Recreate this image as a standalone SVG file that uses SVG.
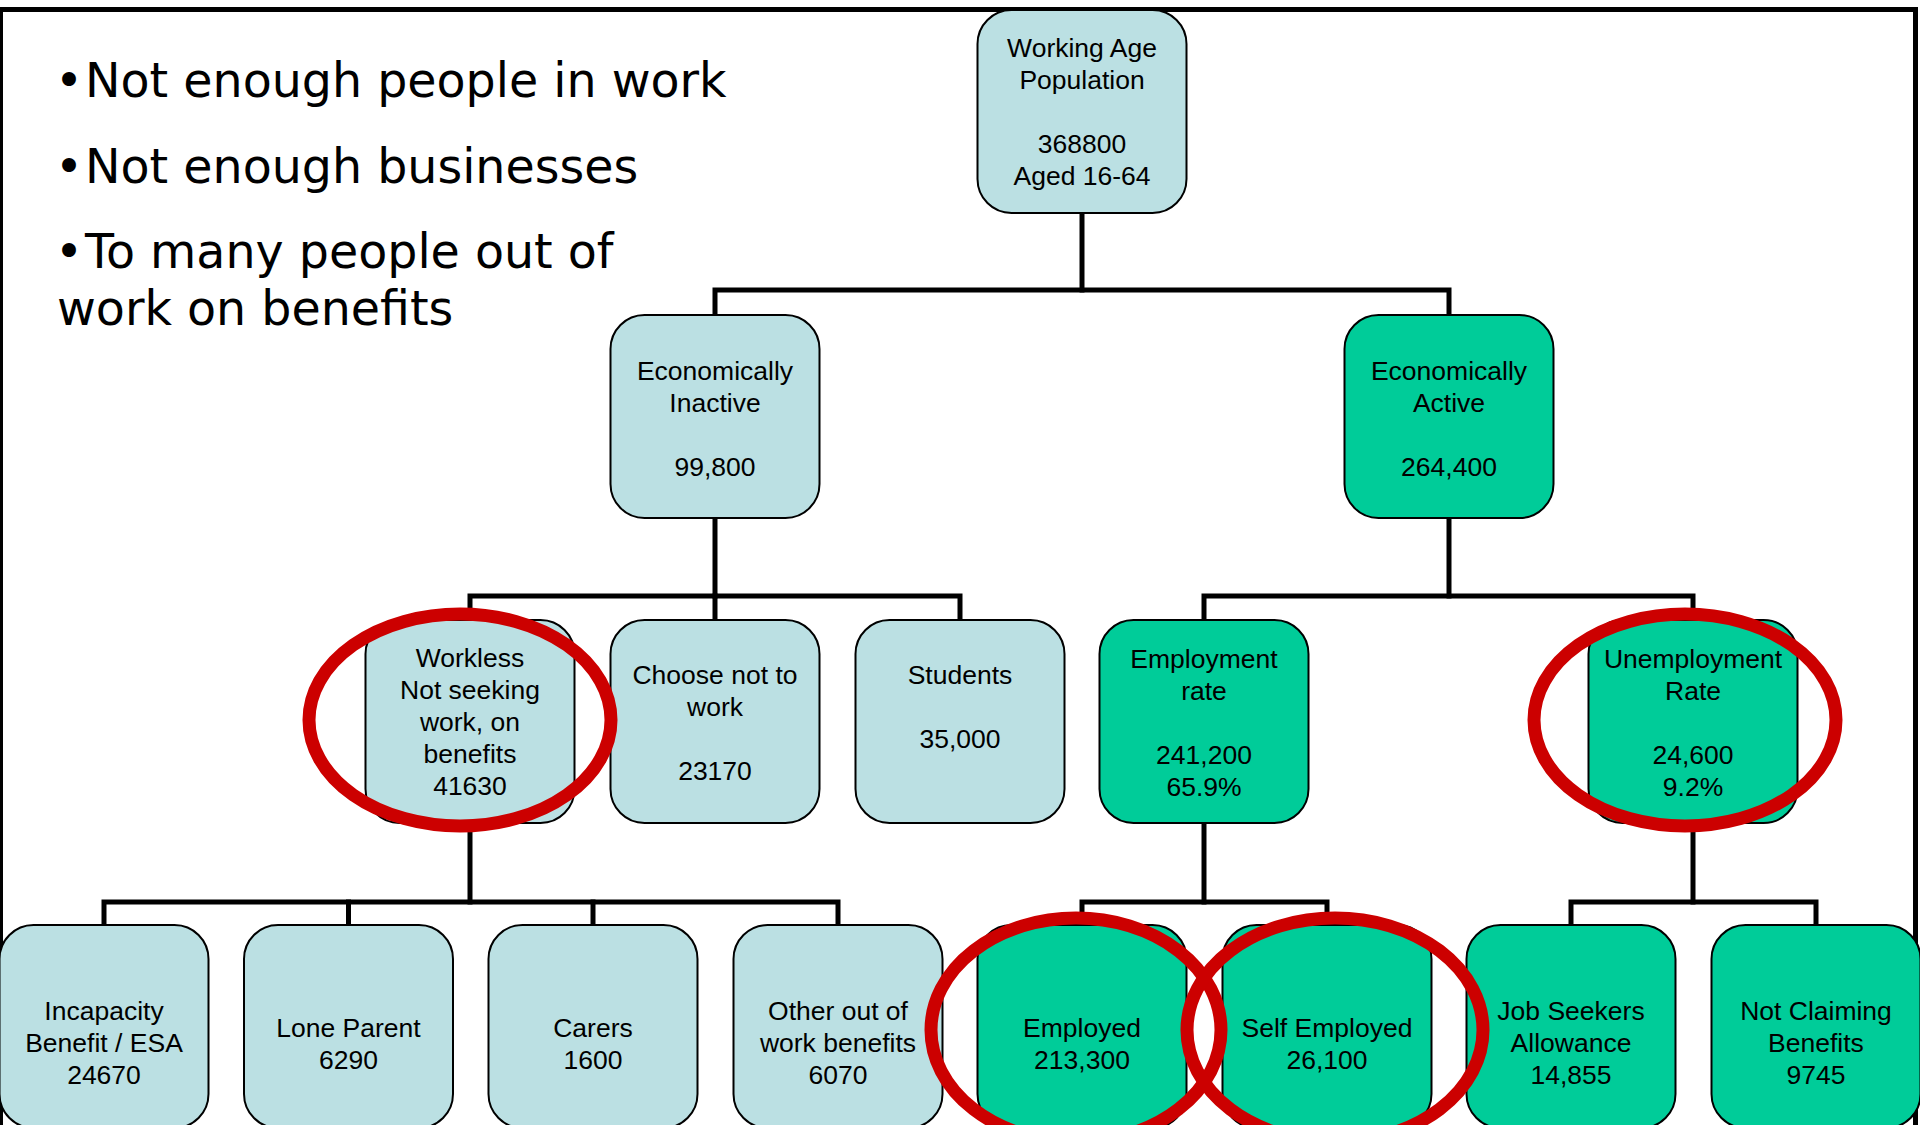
<svg xmlns="http://www.w3.org/2000/svg" width="1920" height="1125" viewBox="0 0 1920 1125">
<style>
.blue{fill:#BBE0E3;stroke:#000;stroke-width:2}
.green{fill:#00CC99;stroke:#000;stroke-width:2}
.t{font-family:"Liberation Sans",Arial,sans-serif;font-size:26.5px;fill:#000;text-anchor:middle}
.c{fill:none;stroke:#000;stroke-width:5;stroke-linecap:square}
.ring{fill:none;stroke:#CC0000;stroke-width:13}
.big{font-family:"DejaVu Sans",Verdana,sans-serif;font-size:47.5px;fill:#000}
.frame{stroke:#000;fill:none}
</style>
<rect x="0" y="0" width="1920" height="1125" fill="#fff"/>
<g id="frame">
<line class="frame" x1="0" y1="9.5" x2="1918" y2="9.5" stroke-width="5"/>
<line class="frame" x1="1.5" y1="7" x2="1.5" y2="1125" stroke-width="3"/>
<line class="frame" x1="1915.5" y1="7" x2="1915.5" y2="1125" stroke-width="5"/>
</g>
<g id="bullets">
<text class="big" x="55" y="97">•<tspan x="85">Not enough people in work</tspan></text>
<text class="big" x="55" y="183">•<tspan x="85">Not enough businesses</tspan></text>
<text class="big" x="55" y="268">•<tspan x="85">To many people out of</tspan></text>
<text class="big" x="57" y="325">work on benefits</text>
</g>
<g id="connectors">
<polyline class="c" points="1082,213 1082,290"/>
<polyline class="c" points="715,315 715,290 1449,290 1449,315"/>
<polyline class="c" points="715,517 715,596"/>
<polyline class="c" points="470,620 470,596 960,596 960,620"/>
<polyline class="c" points="715,596 715,620"/>
<polyline class="c" points="1449,517 1449,596"/>
<polyline class="c" points="1204,620 1204,596 1693,596 1693,620"/>
<polyline class="c" points="470,823 470,902"/>
<polyline class="c" points="104,925 104,902 838,902 838,925"/>
<polyline class="c" points="348.5,902 348.5,925"/>
<polyline class="c" points="593,902 593,925"/>
<polyline class="c" points="1204,823 1204,902"/>
<polyline class="c" points="1082,925 1082,902 1327,902 1327,925"/>
<polyline class="c" points="1693,823 1693,902"/>
<polyline class="c" points="1571,925 1571,902 1816,902 1816,925"/>
</g>
<g id="n-working-age">
<rect class="blue" x="977.5" y="10" width="209" height="203" rx="34"/>
<text class="t" x="1082" y="57">Working Age</text>
<text class="t" x="1082" y="89">Population</text>
<text class="t" x="1082" y="153">368800</text>
<text class="t" x="1082" y="185">Aged 16-64</text>
</g>
<g id="n-inactive">
<rect class="blue" x="610.5" y="315" width="209" height="203" rx="34"/>
<text class="t" x="715" y="380">Economically</text>
<text class="t" x="715" y="412">Inactive</text>
<text class="t" x="715" y="476">99,800</text>
</g>
<g id="n-active">
<rect class="green" x="1344.5" y="315" width="209" height="203" rx="34"/>
<text class="t" x="1449" y="380">Economically</text>
<text class="t" x="1449" y="412">Active</text>
<text class="t" x="1449" y="476">264,400</text>
</g>
<g id="n-workless">
<rect class="blue" x="365.5" y="620" width="209" height="203" rx="34"/>
<text class="t" x="470" y="667">Workless</text>
<text class="t" x="470" y="699">Not seeking</text>
<text class="t" x="470" y="731">work, on</text>
<text class="t" x="470" y="763">benefits</text>
<text class="t" x="470" y="795">41630</text>
</g>
<g id="n-choose">
<rect class="blue" x="610.5" y="620" width="209" height="203" rx="34"/>
<text class="t" x="715" y="684">Choose not to</text>
<text class="t" x="715" y="716">work</text>
<text class="t" x="715" y="780">23170</text>
</g>
<g id="n-students">
<rect class="blue" x="855.5" y="620" width="209" height="203" rx="34"/>
<text class="t" x="960" y="684">Students</text>
<text class="t" x="960" y="748">35,000</text>
</g>
<g id="n-employment">
<rect class="green" x="1099.5" y="620" width="209" height="203" rx="34"/>
<text class="t" x="1204" y="668">Employment</text>
<text class="t" x="1204" y="700">rate</text>
<text class="t" x="1204" y="764">241,200</text>
<text class="t" x="1204" y="796">65.9%</text>
</g>
<g id="n-unemployment">
<rect class="green" x="1588.5" y="620" width="209" height="203" rx="34"/>
<text class="t" x="1693" y="668">Unemployment</text>
<text class="t" x="1693" y="700">Rate</text>
<text class="t" x="1693" y="764">24,600</text>
<text class="t" x="1693" y="796">9.2%</text>
</g>
<g id="n-incapacity">
<rect class="blue" x="-0.5" y="925" width="209" height="203" rx="34"/>
<text class="t" x="104" y="1020">Incapacity</text>
<text class="t" x="104" y="1052">Benefit / ESA</text>
<text class="t" x="104" y="1084">24670</text>
</g>
<g id="n-lone-parent">
<rect class="blue" x="244" y="925" width="209" height="203" rx="34"/>
<text class="t" x="348.5" y="1037">Lone Parent</text>
<text class="t" x="348.5" y="1069">6290</text>
</g>
<g id="n-carers">
<rect class="blue" x="488.5" y="925" width="209" height="203" rx="34"/>
<text class="t" x="593" y="1037">Carers</text>
<text class="t" x="593" y="1069">1600</text>
</g>
<g id="n-other">
<rect class="blue" x="733.5" y="925" width="209" height="203" rx="34"/>
<text class="t" x="838" y="1020">Other out of</text>
<text class="t" x="838" y="1052">work benefits</text>
<text class="t" x="838" y="1084">6070</text>
</g>
<g id="n-employed">
<rect class="green" x="977.5" y="925" width="209" height="203" rx="34"/>
<text class="t" x="1082" y="1037">Employed</text>
<text class="t" x="1082" y="1069">213,300</text>
</g>
<g id="n-self-employed">
<rect class="green" x="1222.5" y="925" width="209" height="203" rx="34"/>
<text class="t" x="1327" y="1037">Self Employed</text>
<text class="t" x="1327" y="1069">26,100</text>
</g>
<g id="n-jsa">
<rect class="green" x="1466.5" y="925" width="209" height="203" rx="34"/>
<text class="t" x="1571" y="1020">Job Seekers</text>
<text class="t" x="1571" y="1052">Allowance</text>
<text class="t" x="1571" y="1084">14,855</text>
</g>
<g id="n-not-claiming">
<rect class="green" x="1711.5" y="925" width="209" height="203" rx="34"/>
<text class="t" x="1816" y="1020">Not Claiming</text>
<text class="t" x="1816" y="1052">Benefits</text>
<text class="t" x="1816" y="1084">9745</text>
</g>
<g id="highlights">
<ellipse class="ring" cx="460" cy="720" rx="151" ry="106"/>
<ellipse class="ring" cx="1685" cy="720" rx="151" ry="106"/>
<ellipse class="ring" cx="1076" cy="1030" rx="145" ry="112"/>
<ellipse class="ring" cx="1335" cy="1030" rx="148" ry="112"/>
</g>
</svg>
